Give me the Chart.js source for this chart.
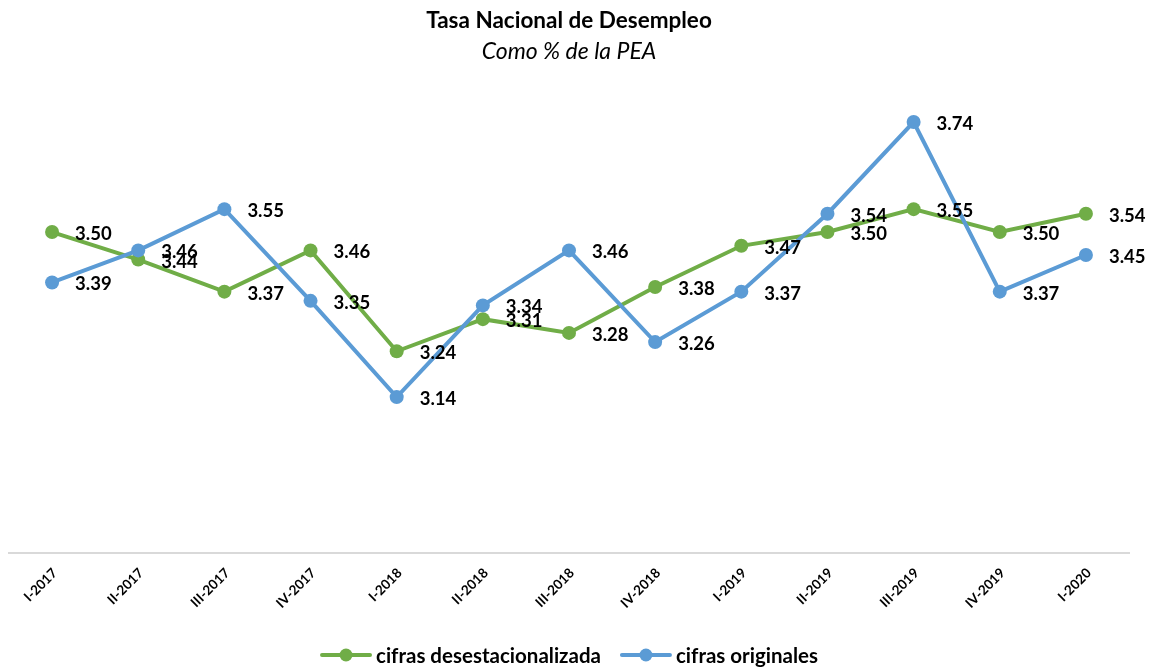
<!DOCTYPE html>
<html>
<head>
<meta charset="utf-8">
<script src="https://cdn.jsdelivr.net/npm/chart.js@4"></script>
<style>
html,body{margin:0;padding:0;background:#fff;}
#wrap{width:1155px;height:667px;position:relative;}
</style>
</head>
<body>
<div id="wrap"><canvas id="c" width="1155" height="667"></canvas></div>
<script>
const categories = ["I-2017","II-2017","III-2017","IV-2017","I-2018","II-2018","III-2018","IV-2018","I-2019","II-2019","III-2019","IV-2019","I-2020"];
const desestacionalizada = [3.50,3.44,3.37,3.46,3.24,3.31,3.28,3.38,3.47,3.50,3.55,3.50,3.54];
const originales = [3.39,3.46,3.55,3.35,3.14,3.34,3.46,3.26,3.37,3.54,3.74,3.37,3.45];
const seriesNames = ["cifras desestacionalizada","cifras originales"];
const titleText = "Tasa Nacional de Desempleo";
const subtitleText = "Como % de la PEA";

const GREEN = "#70AD47", BLUE = "#5B9BD5";
const FONT = "Lato, 'Open Sans', sans-serif";

const labelPlugin = {
  id: 'valueLabels',
  afterDatasetsDraw(chart){
    const ctx = chart.ctx;
    ctx.save();
    ctx.font = "bold 18.5px " + FONT;
    ctx.fillStyle = "#000";
    ctx.textAlign = "left";
    ctx.textBaseline = "middle";
    for (let i = chart.data.datasets.length - 1; i >= 0; i--) {
      const ds = chart.data.datasets[i];
      const meta = chart.getDatasetMeta(i);
      meta.data.forEach((pt, j) => {
        ctx.fillText(ds.data[j].toFixed(2), pt.x + 23, pt.y + 2);
      });
    }
    ctx.restore();
  }
};

const titlePlugin = {
  id: 'titles',
  afterDraw(chart){
    const ctx = chart.ctx;
    const ca = chart.chartArea;
    const cx = (ca.left + ca.right) / 2;
    ctx.save();
    ctx.fillStyle = "#000";
    ctx.textAlign = "center";
    ctx.textBaseline = "alphabetic";
    ctx.font = "bold 22.5px " + FONT;
    ctx.fillText(titleText, cx, 28);
    ctx.font = "italic 23px " + FONT;
    ctx.fillText(subtitleText, cx, 59);

    // legend
    ctx.font = "bold 20.5px " + FONT;
    const colors = [GREEN, BLUE];
    const iconW = 52, gap = 4, itemGap = 19;
    const widths = seriesNames.map(t => ctx.measureText(t).width);
    let total = 0;
    widths.forEach((w, i) => { total += iconW + gap + w + (i < widths.length - 1 ? itemGap : 0); });
    let x = cx - total / 2;
    const y = 655;
    ctx.textAlign = "left";
    ctx.textBaseline = "middle";
    seriesNames.forEach((t, i) => {
      ctx.strokeStyle = colors[i];
      ctx.lineWidth = 4;
      ctx.lineCap = "round";
      ctx.beginPath(); ctx.moveTo(x + 2, y); ctx.lineTo(x + iconW - 2, y); ctx.stroke();
      ctx.fillStyle = colors[i];
      ctx.beginPath(); ctx.arc(x + iconW / 2, y, 6.5, 0, Math.PI * 2); ctx.fill();
      ctx.fillStyle = "#000";
      ctx.fillText(t, x + iconW + gap, y + 1);
      x += iconW + gap + widths[i] + itemGap;
    });
    ctx.restore();
  }
};

new Chart(document.getElementById('c'), {
  type: 'line',
  data: {
    labels: categories,
    datasets: [
      {label: seriesNames[0], data: desestacionalizada, borderColor: GREEN, backgroundColor: GREEN,
       borderWidth: 4, pointRadius: 7, pointHoverRadius: 7, pointBorderWidth: 0, tension: 0, order: 2},
      {label: seriesNames[1], data: originales, borderColor: BLUE, backgroundColor: BLUE,
       borderWidth: 4, pointRadius: 7, pointHoverRadius: 7, pointBorderWidth: 0, tension: 0, order: 1}
    ]
  },
  options: {
    responsive: false,
    animation: false,
    layout: {padding: {left: 9, right: 26, top: 94.5, bottom: 38}},
    plugins: {
      title: {display: false},
      subtitle: {display: false},
      legend: {display: false},
      tooltip: {enabled: false}
    },
    scales: {
      x: {
        offset: true,
        grid: {display: false, drawTicks: false},
        border: {display: true, color: "#d9d9d9", width: 2},
        ticks: {color: "#000", font: {family: FONT, size: 13.5, weight: 'bold'}, maxRotation: 45, minRotation: 45, padding: 12, labelOffset: 3},
        afterFit(scale){ scale.height = 76; }
      },
      y: {
        display: false,
        min: 2.8, max: 3.8
      }
    }
  },
  plugins: [labelPlugin, titlePlugin]
});
</script>
</body>
</html>
